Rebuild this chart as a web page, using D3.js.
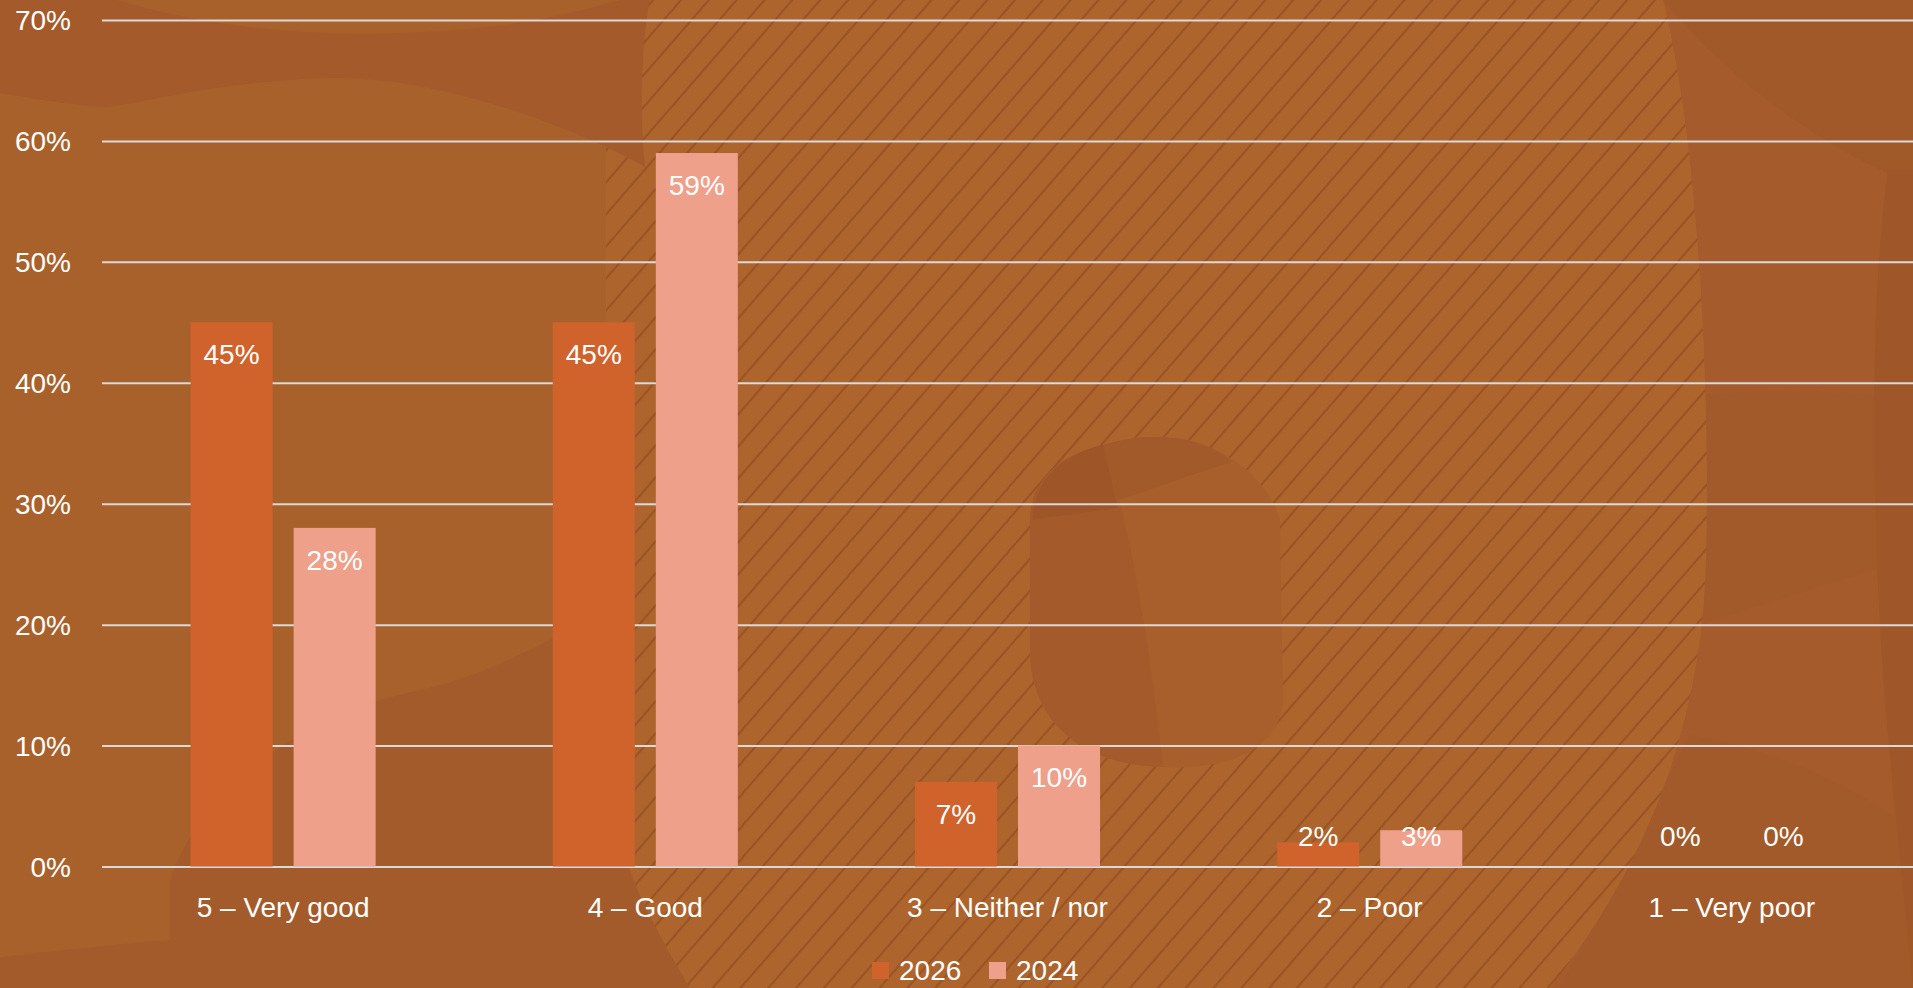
<!DOCTYPE html>
<html>
<head>
<meta charset="utf-8">
<script src="https://cdn.jsdelivr.net/npm/d3@7"></script>
<style>
    html, body { margin: 0; padding: 0; background: #A9612B; overflow: hidden; }
    svg { display: block; }
    text { font-family: 'Liberation Sans', Arial, sans-serif; fill: #fff; }
</style>
</head>
<body>
<svg id="chart"></svg>
<script>
// Rating distribution, 2026 vs 2024

const categories = ['5 – Very good', '4 – Good', '3 – Neither / nor', '2 – Poor', '1 – Very poor'];
const seriesNames = ['2026', '2024'];
const values2026 = [0.45, 0.45, 0.07, 0.02, 0.00];
const values2024 = [0.28, 0.59, 0.10, 0.03, 0.00];
const yTicks = [0, 0.1, 0.2, 0.3, 0.4, 0.5, 0.6, 0.7];

const colors = { '2026': '#D0622C', '2024': '#EEA08A' };

const width = 1913;
const height = 988;
const plot = { left: 102, right: 1913, top: 20, bottom: 866.5 };

const svg = d3.select('#chart')
    .attr('width', width)
    .attr('height', height);

// --- background decoration ---
const bg = svg.append('g').attr('class', 'background');

bg.append('rect')
    .attr('width', width)
    .attr('height', height)
    .attr('fill', '#A9612B');

const defs = svg.append('defs');
const hatch = defs.append('pattern')
    .attr('id', 'hatch')
    .attr('patternUnits', 'userSpaceOnUse')
    .attr('width', 21)
    .attr('height', 20)
    .attr('patternTransform', 'rotate(41)');
hatch.append('rect')
    .attr('width', 21)
    .attr('height', 20)
    .attr('fill', '#AE652D');
hatch.append('line')
    .attr('x1', 10).attr('y1', -2)
    .attr('x2', 10).attr('y2', 22)
    .attr('stroke', '#8A481E')
    .attr('stroke-opacity', 0.6)
    .attr('stroke-width', 2.2);

// bottom-left darker shapes (under the hatch)
bg.append('path')
    .attr('d', 'M170,988 L170,880 C200,790 300,715 420,690 C520,668 620,600 720,540 L720,988 Z')
    .attr('fill', '#A45B2B');
bg.append('path')
    .attr('d', 'M0,957 C60,950 120,944 170,940 L170,988 L0,988 Z')
    .attr('fill', '#A45B2B');

// right side, outside hatch
const hatchRightEdge = 'C1650,860 1702,720 1706,560 C1710,400 1700,150 1663,0';
bg.append('path')
    .attr('d', `M1663,0 L1913,0 L1913,988 L1550,988 ${hatchRightEdge} Z`)
    .attr('fill', '#A55B2B');
bg.append('path')
    .attr('d', 'M1663,0 C1720,70 1820,150 1913,183 L1913,0 Z')
    .attr('fill', '#A2592A');
bg.append('path')
    .attr('d', 'M1700,395 C1780,388 1860,392 1913,400 L1913,560 C1850,575 1780,600 1700,625 Z')
    .attr('fill', '#A35A2A');
bg.append('path')
    .attr('d', 'M1690,735 C1780,750 1860,790 1913,830 L1913,988 L1560,988 Z')
    .attr('fill', '#A35A2A');
bg.append('path')
    .attr('d', 'M1888,170 C1870,300 1870,500 1885,700 C1895,820 1905,900 1913,988 L1913,170 Z')
    .attr('fill', '#9F5729');

// hatched region
bg.append('path')
    .attr('d', 'M640,0 L1663,0 C1700,150 1710,400 1706,560 C1702,720 1650,860 1550,988 L690,988 C640,900 606,850 606,700 L606,150 C606,80 620,30 640,0 Z')
    .attr('fill', 'url(#hatch)');

// top-left dark band
bg.append('path')
    .attr('d', 'M0,0 L117,0 C200,25 300,37 400,33 C500,30 570,15 620,0 L650,0 C640,50 640,120 645,167 C600,140 450,75 330,78 C200,82 130,108 100,107 C60,104 20,96 0,93 Z')
    .attr('fill', '#A45A2B');

// middle blob
bg.append('path')
    .attr('d', 'M1103,445 C1180,420 1260,455 1280,520 L1283,700 C1280,750 1230,770 1163,767 C1080,765 1030,720 1030,650 L1030,520 C1030,480 1060,455 1103,445 Z')
    .attr('fill', '#A95F2B');
bg.append('path')
    .attr('d', 'M1103,445 C1060,455 1030,480 1030,520 L1030,650 C1030,720 1080,765 1163,767 C1150,650 1130,520 1103,445 Z')
    .attr('fill', '#A45A2A');
bg.append('path')
    .attr('d', 'M1103,445 C1160,428 1210,440 1232,462 C1190,475 1150,490 1118,500 Z')
    .attr('fill', '#A35A2A');
bg.append('path')
    .attr('d', 'M1103,445 C1060,455 1035,480 1032,520 C1060,515 1090,512 1118,508 Z')
    .attr('fill', '#9E5628');

// --- scales ---
const y = d3.scaleLinear()
    .domain([0, 0.7])
    .range([plot.bottom, plot.top]);

const x0 = d3.scaleBand()
    .domain(categories)
    .range([plot.left, plot.right])
    .paddingInner(0.489)
    .paddingOuter(0.2445);

const x1 = d3.scaleBand()
    .domain(seriesNames)
    .range([0, x0.bandwidth()])
    .paddingInner(0.204)
    .paddingOuter(0);

const pct = d3.format('.0%');

// --- gridlines ---
const yAxis = d3.axisLeft(y)
    .tickValues(yTicks)
    .tickSize(-(plot.right - plot.left))
    .tickFormat(pct);

const yAxisG = svg.append('g')
    .attr('transform', `translate(${plot.left},0)`)
    .call(yAxis);

yAxisG.select('.domain').remove();
yAxisG.selectAll('.tick line')
    .attr('stroke', '#D9D9D9')
    .attr('stroke-width', 2);
yAxisG.selectAll('.tick text')
    .attr('x', -31)
    .attr('dy', '0.35em')
    .attr('fill', '#fff')
    .style('font-size', '28px')
    .style('font-family', "'Liberation Sans', Arial, sans-serif");

// --- bars ---
const rows = categories.map((c, i) => ({
    category: c,
    values: [
        { series: '2026', value: values2026[i] },
        { series: '2024', value: values2024[i] }
    ]
}));

const groups = svg.append('g')
    .selectAll('g')
    .data(rows)
    .join('g')
    .attr('transform', d => `translate(${x0(d.category)},0)`);

groups.selectAll('rect')
    .data(d => d.values)
    .join('rect')
    .attr('x', d => x1(d.series))
    .attr('y', d => y(d.value))
    .attr('width', x1.bandwidth())
    .attr('height', d => y(0) - y(d.value))
    .attr('fill', d => colors[d.series]);

groups.selectAll('text.value')
    .data(d => d.values)
    .join('text')
    .attr('class', 'value')
    .attr('x', d => x1(d.series) + x1.bandwidth() / 2)
    .attr('y', d => Math.min(y(d.value) + 32, y(0) - 30))
    .attr('dy', '0.35em')
    .attr('text-anchor', 'middle')
    .style('font-size', '28px')
    .text(d => pct(d.value));

// --- category axis labels ---
svg.append('g')
    .selectAll('text')
    .data(categories)
    .join('text')
    .attr('x', d => x0(d) + x0.bandwidth() / 2)
    .attr('y', 907)
    .attr('dy', '0.35em')
    .attr('text-anchor', 'middle')
    .style('font-size', '28px')
    .text(d => d);

// --- legend ---
const legendX = [872, 989];
const legend = svg.append('g')
    .selectAll('g')
    .data(seriesNames)
    .join('g')
    .attr('transform', (d, i) => `translate(${legendX[i]},962)`);

legend.append('rect')
    .attr('width', 17)
    .attr('height', 17)
    .attr('fill', d => colors[d]);

legend.append('text')
    .attr('x', 27)
    .attr('y', 8)
    .attr('dy', '0.35em')
    .style('font-size', '28px')
    .text(d => d);
</script>
</body>
</html>
